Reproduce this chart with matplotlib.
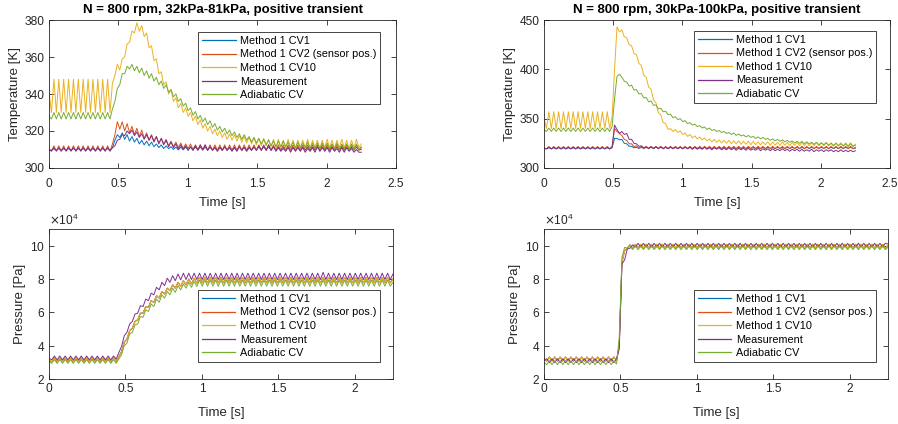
import matplotlib.pyplot as plt
import numpy as np
from matplotlib.ticker import FuncFormatter, ScalarFormatter

plt.rcParams['font.family'] = ['Liberation Sans', 'DejaVu Sans']

# every trace is sampled at half engine pulses from 0 s to 2.25 s
T_END = 2.25

labels = ['Method 1 CV1', 'Method 1 CV2 (sensor pos.)', 'Method 1 CV10',
          'Measurement', 'Adiabatic CV']
colors = ['#0072BD', '#D95319', '#EDB120', '#7E2F8E', '#77AC30']
titles = ['N = 800 rpm, 32kPa-81kPa, positive transient',
          'N = 800 rpm, 30kPa-100kPa, positive transient']

# ---- temperature [K], 32kPa -> 81kPa
tl_cv1 = [310, 309.5, 310.5, 309.5, 310.5, 309.5, 310.5, 309.5, 310.5, 309.5, 310.5, 309.5, 310.5, 309.5, 310.5, 309.5,
          310.5, 309.5, 310.5, 309.5, 310.5, 309.5, 310.5, 309.5, 310.5, 309.5, 311, 315, 318, 316.5, 319, 315.5,
          318, 314.5, 317, 314, 316, 313, 315, 312.5, 314.5, 312, 314, 311.5, 313, 311, 312.5, 310.5,
          312, 310.5, 311.5, 310, 311.3, 309.8, 311.3, 309.8, 311.3, 309.8, 311.3, 309.8, 311.3, 309.8, 311.3, 309.8,
          311.3, 309.8, 311.3, 309.8, 311.3, 309.8, 311.3, 309.8, 311.3, 309.8, 311.3, 309.8, 311.3, 309.8, 311.3, 309.8,
          311.3, 309.8, 311.3, 309.8, 311.3, 309.8, 311.3, 309.8, 311.3, 309.8, 311.3, 309.8, 311.3, 309.8, 311.3, 309.8,
          311.3, 309.8, 311.3, 309.8, 311.3, 309.8, 311.3, 309.8, 311.3, 309.8, 311.3, 309.8, 311.3, 309.8, 311.3, 309.8,
          311.3, 309.8, 311.3, 309.8, 311.3, 309.8, 311.3, 309.8, 311.3, 309.8, 311.3, 309.8, 311.3, 309.8, 311.3, 309.8,
          310]
tl_cv2 = [310, 309, 312, 309, 312, 309, 312, 309, 312, 309, 312, 309, 312, 309, 312, 309,
          312, 309, 312, 309, 312, 309, 312, 309, 312, 309, 313, 318, 325, 321, 325, 320,
          324, 319, 322.5, 318, 321.5, 317, 320.5, 316, 319, 315, 318, 314.5, 317, 313.5, 316, 313,
          315.5, 312, 314.5, 311.5, 314, 311, 313.5, 310.5, 313, 310.5, 313, 310, 312.5, 310, 312.5, 309.5,
          312.5, 309.5, 312.5, 309.5, 312.5, 309.5, 312.5, 309.5, 312.5, 309.5, 312.5, 309.5, 312.5, 309.5, 312.5, 309.5,
          312.5, 309.5, 312.5, 309.5, 312.5, 309.5, 312.5, 309.5, 312.5, 309.5, 312.5, 309.5, 312.5, 309.5, 312.5, 309.5,
          312.5, 309.5, 312.5, 309.5, 312.5, 309.5, 312.5, 309.5, 312.5, 309.5, 312.5, 309.5, 312.5, 309.5, 312.5, 309.5,
          312.5, 309.5, 312.5, 309.5, 312.5, 309.5, 312.5, 309.5, 312.5, 309.5, 312.5, 309.5, 312.5, 309.5, 312.5, 309.5,
          311]
tl_cv10 = [341, 330, 348, 330, 348, 330, 348, 330, 348, 330, 348, 330, 348, 330, 348, 330,
           348, 330, 348, 330, 348, 330, 348, 330, 348, 330, 346, 350, 356, 353, 359, 360,
           367, 368, 374, 373, 378.5, 374, 377, 371, 373, 365, 366, 358, 359, 351, 352, 345,
           346.5, 340, 342, 336, 338, 332.5, 335, 330, 332.5, 328, 330, 325.5, 328, 323.5, 326, 321.5,
           324, 320, 322.5, 318.5, 321, 317.5, 320, 316.5, 319, 315.5, 318.5, 315, 318, 314.5, 317.5, 314,
           317, 313.5, 316.5, 313, 316.5, 312.5, 316, 312, 316, 312, 315.5, 311.5, 315.5, 311, 315.5, 311,
           315, 311, 315.5, 311, 315, 310.5, 315, 311, 315, 311, 315.5, 310.5, 315, 311, 315, 310.5,
           315, 311, 315.5, 311, 315, 310.5, 315, 311, 315.5, 311, 315, 310.5, 315, 311, 315.5, 311,
           313]
tl_meas = [310, 309.3, 311, 309.3, 311, 309.3, 311, 309.3, 311, 309.3, 311, 309.3, 311, 309.3, 311, 309.3,
           311, 309.3, 311, 309.3, 311, 309.3, 311, 309.3, 311, 309.3, 311, 312, 315, 315.5, 318, 317.5,
           320, 318.5, 320.5, 317.5, 319.5, 316.5, 318.5, 315.5, 318, 315, 317.5, 314, 317, 313, 316, 312.5,
           315, 311.5, 314, 311, 313, 310, 312.5, 310, 312, 309.5, 311.5, 309.5, 312, 309.5, 312.5, 310,
           312.5, 309.5, 311.5, 309.5, 311, 309, 311, 309.5, 311.5, 309.5, 311, 309, 311, 309, 311.5, 309.5,
           311, 309, 311, 309.5, 311.5, 309.5, 312, 309.5, 312, 309.5, 312.5, 309.5, 311.5, 309, 311, 309,
           310.5, 309, 311, 308.5, 311, 309, 311, 309, 311, 308.5, 310.5, 309, 311, 308.5, 311.5, 309,
           311, 309, 311, 308.5, 311, 309, 310.5, 308.5, 311, 308.5, 311, 309, 310.5, 308.5, 310, 308.5,
           308.5]
tl_adia = [328, 326.5, 330, 326.5, 330, 326.5, 330, 326.5, 330, 326.5, 330, 326.5, 330, 326.5, 330, 326.5,
           330, 326.5, 330, 326.5, 330, 326.5, 330, 326.5, 330, 326.5, 332, 336, 343, 345, 351, 351,
           355, 353.5, 356, 352.5, 355, 351.5, 354, 350, 352.5, 348.5, 351, 347, 349, 345, 347, 343,
           345, 341, 342.5, 338.5, 340, 336, 337.5, 333.5, 335, 331, 332.5, 328.5, 330.5, 326.5, 328.5, 325,
           327, 323.5, 325.5, 322, 324, 320.5, 322.5, 319.5, 321.5, 318.5, 320.5, 317.5, 319.5, 316.5, 318.5, 315.5,
           318, 315, 317, 314, 316.5, 313.5, 316, 313, 315.5, 312.5, 315, 312, 314.5, 311.5, 314.5, 311.5,
           314.5, 311.5, 314, 311, 314, 311, 314, 311, 313.5, 311, 314, 310.5, 313.5, 310.5, 313.5, 310.5,
           313.5, 310.5, 313.5, 310.5, 313, 310.5, 313.5, 310, 313, 310.5, 313, 310, 313, 310, 313, 310,
           311.5]

# ---- temperature [K], 30kPa -> 100kPa
tr_cv1 = [320, 319.5, 320.5, 319.5, 320.5, 319.5, 320.5, 319.5, 320.5, 319.5, 320.5, 319.5, 320.5, 319.5, 320.5, 319.5,
          320.5, 319.5, 320.5, 319.5, 320.5, 319.5, 320.5, 319.5, 320.5, 319.5, 320.5, 319.5, 320.5, 330, 330, 328.5,
          329, 325, 324.5, 322, 322, 320.5, 321, 319.8, 321, 319.8, 321, 319.8, 321, 319.8, 321, 319.8,
          321, 319.8, 321, 319.8, 321, 319.8, 321, 319.8, 321, 319.8, 321, 319.8, 321, 319.8, 321, 319.8,
          321, 319.8, 321, 319.8, 321, 319.8, 321, 319.8, 321, 319.8, 321, 319.8, 321, 319.8, 321, 319.8,
          321, 319.8, 321, 319.8, 321, 319.8, 321, 319.8, 321, 319.8, 321, 319.8, 321, 319.8, 321, 319.8,
          321, 319.8, 321, 319.8, 321, 319.8, 321, 319.8, 321, 319.8, 321, 319.8, 321, 319.8, 321, 319.8,
          321, 319.8, 321, 319.8, 321, 319.8, 321, 319.8, 321, 319.8, 321, 319.8, 321, 319.8, 321, 319.8,
          320]
tr_cv2 = [320, 319.5, 321.8, 319.5, 321.8, 319.5, 321.8, 319.5, 321.8, 319.5, 321.8, 319.5, 321.8, 319.5, 321.8, 319.5,
          321.8, 319.5, 321.8, 319.5, 321.8, 319.5, 321.8, 319.5, 321.8, 319.5, 321.8, 319.5, 322, 340, 337, 335,
          333, 329, 328, 324.5, 324.5, 321.5, 322.5, 320, 322, 319.5, 322, 319.5, 322, 319.5, 322, 319.5,
          322, 319.5, 322, 319.5, 322, 319.5, 322, 319.5, 322, 319.5, 322, 319.5, 322, 319.5, 322, 319.5,
          322, 319.5, 322, 319.5, 322, 319.5, 322, 319.5, 322, 319.5, 322, 319.5, 322, 319.5, 322, 319.5,
          322, 319.5, 322, 319.5, 322, 319.5, 322, 319.5, 322, 319.5, 322, 319.5, 322, 319.5, 322, 319.5,
          322, 319.5, 322, 319.5, 322, 319.5, 322, 319.5, 322, 319.5, 322, 319.5, 322, 319.5, 322, 319.5,
          322, 319.5, 322, 319.5, 322, 319.5, 322, 319.5, 322, 319.5, 322, 319.5, 322, 319.5, 322, 319.5,
          321]
tr_cv10 = [350, 340, 357, 340, 357, 340, 357, 340, 357, 340, 357, 340, 357, 340, 357, 340,
           357, 340, 357, 340, 357, 340, 357, 340, 357, 340, 357, 340, 352, 400, 443, 438,
           440, 433, 432, 425, 424, 416, 415, 406, 404, 394, 392, 382, 380, 369, 366, 356,
           354, 346, 345, 339, 340, 337, 339, 336, 337.5, 334, 335.5, 332, 334, 330.5, 332.5, 329.5,
           331.5, 328.5, 330.5, 327.5, 329.5, 326.5, 329, 326, 328.5, 325.5, 328, 325, 328, 324.5, 327.5, 324.5,
           327.5, 324, 327, 324, 327, 323.5, 327, 323.5, 326.5, 323.5, 326.5, 323.5, 326.5, 323, 326.5, 323,
           326, 323, 326.5, 323, 326, 322.5, 326, 323, 326, 322.5, 326, 322.5, 326, 322.5, 326, 322.5,
           326, 322.5, 325.5, 322.5, 326, 322.5, 325.5, 322, 325.5, 322.5, 325.5, 322, 325.5, 322, 325.5, 322,
           324]
tr_meas = [320, 319.3, 321, 319.3, 321, 319.3, 321, 319.3, 321, 319.3, 321, 319.3, 321, 319.3, 321, 319.3,
           321, 319.3, 321, 319.3, 321, 319.3, 321, 319.3, 321, 319.3, 321, 319.3, 321, 343.5, 339, 335,
           337, 334, 335, 329, 329, 325, 324.5, 322, 322.5, 320.5, 321.5, 320, 321.5, 320, 321.5, 320,
           321.5, 319.5, 321, 319.5, 321.5, 319.5, 321, 319.5, 321, 319.5, 321, 319.5, 321, 319, 321, 319,
           320.5, 319, 321, 319, 320.5, 318.5, 320.5, 319, 320.5, 318.5, 320, 318.5, 320.5, 318.5, 320, 318,
           320, 318.5, 320, 318, 320, 318, 319.5, 318, 320, 317.5, 319.5, 318, 319.5, 317.5, 319.5, 317.5,
           319, 317.5, 319.5, 317.5, 319, 317, 319, 317.5, 319, 317, 319, 317, 318.5, 317, 319, 316.5,
           318.5, 317, 318.5, 316.5, 318.5, 317, 318.5, 316.5, 318, 316.5, 318.5, 316.5, 318, 316.5, 318, 316.5,
           317.5]
tr_adia = [339, 337, 340.5, 337, 340.5, 337, 340.5, 337, 340.5, 337, 340.5, 337, 340.5, 337, 340.5, 337,
           340.5, 337, 340.5, 337, 340.5, 337, 340.5, 337, 340.5, 337, 340.5, 337, 342, 370, 393, 395,
           392, 388, 387, 383, 384, 379, 379.5, 375, 375.5, 371, 371.5, 367, 368, 363.5, 364, 360,
           360.5, 357, 357.5, 354, 354.5, 351, 352, 349, 350, 347, 348, 345, 346, 343.5, 344.5, 342,
           343, 340.5, 341.5, 339, 340.5, 338, 339, 337, 338, 336, 337, 335, 336, 334, 335.5, 333,
           334.5, 332.5, 333.5, 331.5, 333, 331, 332, 330, 331.5, 329.5, 331, 329, 330, 328, 329.5, 327.5,
           329, 327, 328.5, 326.5, 328, 326, 327.5, 325.5, 327, 325, 327, 324.5, 326.5, 324.5, 326, 324,
           326, 323.5, 325.5, 323.5, 325.5, 323, 325, 323, 325, 322.5, 324.5, 322.5, 324.5, 322, 324.5, 322,
           323]

# ---- pressure [kPa], 32kPa -> 81kPa (CV1 and CV2 lie under CV10)
bl_cv10 = [31.5, 30.3, 32.6, 30.3, 32.6, 30.3, 32.6, 30.3, 32.6, 30.3, 32.6, 30.3, 32.6, 30.3, 32.6, 30.3,
           32.6, 30.3, 32.6, 30.3, 32.6, 30.3, 32.6, 30.3, 32.6, 30.5, 33.5, 36.5, 42, 44, 49, 50.5,
           54.5, 55.5, 59.5, 59.5, 63.5, 63, 67, 66, 70, 68.5, 72.5, 71, 74.5, 73, 76.5, 74.5,
           78, 75.5, 79, 76.5, 80, 77, 80.5, 77.5, 81, 77.7, 81, 77.7, 81, 77.7, 81, 77.7,
           81, 77.7, 81, 77.7, 81, 77.7, 81, 77.7, 81, 77.7, 81, 77.7, 81, 77.7, 81, 77.7,
           81, 77.7, 81, 77.7, 81, 77.7, 81, 77.7, 81, 77.7, 81, 77.7, 81, 77.7, 81, 77.7,
           81, 77.7, 81, 77.7, 81, 77.7, 81, 77.7, 81, 77.7, 81, 77.7, 81, 77.7, 81, 77.7,
           81, 77.7, 81, 77.7, 81, 77.7, 81, 77.7, 81, 77.7, 81, 77.7, 81, 77.7, 81, 77.7,
           80]
bl_cv1 = bl_cv10
bl_cv2 = bl_cv10
bl_meas = [32.5, 31.5, 33.8, 31.5, 33.8, 31.5, 33.8, 31.5, 33.8, 31.5, 33.8, 31.5, 33.8, 31.5, 33.8, 31.5,
           33.8, 31.5, 33.8, 31.5, 33.8, 31.5, 33.8, 31.5, 33.8, 32, 36, 39.5, 46, 48, 53, 54.5,
           59, 59.5, 64, 63.5, 68, 67, 71.5, 70.5, 75, 73.5, 78, 76, 80.5, 78, 82, 79,
           83, 79.5, 83.5, 79.7, 83.5, 79.7, 83.5, 79.7, 83.5, 79.7, 83.5, 79.7, 83.5, 79.7, 83.5, 79.7,
           83.5, 79.7, 83.5, 79.7, 83.5, 79.7, 83.5, 79.7, 83.5, 79.7, 83.5, 79.7, 83.5, 79.7, 83.5, 79.7,
           83.5, 79.7, 83.5, 79.7, 83.5, 79.7, 83.5, 79.7, 83.5, 79.7, 83.5, 79.7, 83.5, 79.7, 83.5, 79.7,
           83.5, 79.7, 83.5, 79.7, 83.5, 79.7, 84, 79.7, 83.5, 79.7, 83.5, 79.7, 83.5, 79.7, 83.5, 79.7,
           83.5, 79.7, 83.5, 79.7, 83.5, 79.7, 83.5, 79.7, 83.5, 79.7, 83.5, 79.7, 83.5, 79.7, 83.5, 79.7,
           83]
bl_adia = [30.5, 29.4, 31.6, 29.4, 31.6, 29.4, 31.6, 29.4, 31.6, 29.4, 31.6, 29.4, 31.6, 29.4, 31.6, 29.4,
           31.6, 29.4, 31.6, 29.4, 31.6, 29.4, 31.6, 29.4, 31.6, 29.5, 32, 34.5, 40, 41.5, 47, 48,
           52.5, 53, 57.5, 57, 61.5, 60.5, 65, 63.5, 68, 66, 70.5, 68.5, 72.5, 70.5, 74.5, 72,
           76, 73.5, 77, 74.5, 78, 75, 78.5, 75.5, 79.3, 75.7, 79.3, 75.7, 79.3, 75.7, 79.3, 75.7,
           79.3, 75.7, 79.3, 75.7, 79.3, 75.7, 79.3, 75.7, 79.3, 75.7, 79.3, 75.7, 79.3, 75.7, 79.3, 75.7,
           79.3, 75.7, 79.3, 75.7, 79.3, 75.7, 79.3, 75.7, 79.3, 75.7, 79.3, 75.7, 79.3, 75.7, 79.3, 75.7,
           79.3, 75.7, 79.3, 75.7, 79.3, 75.7, 79.3, 75.7, 79.3, 75.7, 79.3, 75.7, 79.3, 75.7, 79.3, 75.7,
           79.3, 75.7, 79.3, 75.7, 79.3, 75.7, 79.3, 75.7, 79.3, 75.7, 79.3, 75.7, 79.3, 75.7, 79.3, 75.7,
           78]

# ---- pressure [kPa], 30kPa -> 100kPa (CV1 and CV2 lie under CV10)
br_cv10 = [32, 30.8, 33.2, 30.8, 33.2, 30.8, 33.2, 30.8, 33.2, 30.8, 33.2, 30.8, 33.2, 30.8, 33.2, 30.8,
           33.2, 30.8, 33.2, 30.8, 33.2, 30.8, 33.2, 30.8, 33.2, 30.8, 33.2, 31, 40, 90, 97, 98.5,
           100.5, 98.6, 100.8, 98.6, 100.8, 98.6, 100.8, 98.6, 100.8, 98.6, 100.8, 98.6, 100.8, 98.6, 100.8, 98.6,
           100.8, 98.6, 100.8, 98.6, 100.8, 98.6, 100.8, 98.6, 100.8, 98.6, 100.8, 98.6, 100.8, 98.6, 100.8, 98.6,
           100.8, 98.6, 100.8, 98.6, 100.8, 98.6, 100.8, 98.6, 100.8, 98.6, 100.8, 98.6, 100.8, 98.6, 100.8, 98.6,
           100.8, 98.6, 100.8, 98.6, 100.8, 98.6, 100.8, 98.6, 100.8, 98.6, 100.8, 98.6, 100.8, 98.6, 100.8, 98.6,
           100.8, 98.6, 100.8, 98.6, 100.8, 98.6, 100.8, 98.6, 100.8, 98.6, 100.8, 98.6, 100.8, 98.6, 100.8, 98.6,
           100.8, 98.6, 100.8, 98.6, 100.8, 98.6, 100.8, 98.6, 100.8, 98.6, 100.8, 98.6, 100.8, 98.6, 100.8, 98.6,
           100]
br_cv1 = br_cv10
br_cv2 = br_cv10
br_meas = [31, 32.2, 29.8, 32.2, 29.8, 32.2, 29.8, 32.2, 29.8, 32.2, 29.8, 32.2, 29.8, 32.2, 29.8, 32.2,
           29.8, 32.2, 29.8, 32.2, 29.8, 32.2, 29.8, 32.2, 29.8, 32.2, 29.8, 32.2, 38, 89, 91.5, 98,
           98.5, 100.5, 99.2, 101.4, 99.2, 101.4, 99.2, 101.4, 99.2, 101.4, 99.2, 101.4, 99.2, 101.4, 99.2, 101.4,
           99.2, 101.4, 99.2, 101.4, 99.2, 101.4, 99.2, 101.4, 99.2, 101.4, 99.2, 101.4, 99.2, 101.4, 99.2, 101.4,
           99.2, 101.4, 99.2, 101.4, 99.2, 101.4, 99.2, 101.4, 99.2, 101.4, 99.2, 101.4, 99.2, 101.4, 99.2, 101.4,
           99.2, 101.4, 99.2, 101.4, 99.2, 101.4, 99.2, 101.4, 99.2, 101.4, 99.2, 101.4, 99.2, 101.4, 99.2, 101.4,
           99.2, 101.4, 99.2, 101.4, 99.2, 101.4, 99.2, 101.4, 99.2, 101.4, 99.2, 101.4, 99.2, 101.4, 99.2, 101.4,
           99.2, 101.4, 99.2, 101.4, 99.2, 101.4, 99.2, 101.4, 99.2, 101.4, 99.2, 101.4, 99.2, 101.4, 99.2, 101.4,
           101]
br_adia = [30, 28.6, 31, 28.6, 31, 28.6, 31, 28.6, 31, 28.6, 31, 28.6, 31, 28.6, 31, 28.6,
           31, 28.6, 31, 28.6, 31, 28.6, 31, 28.6, 31, 28.6, 31, 29, 45, 93, 99, 98.5,
           99.8, 97.6, 99.8, 97.6, 99.8, 97.6, 99.8, 97.6, 99.8, 97.6, 99.8, 97.6, 99.8, 97.6, 99.8, 97.6,
           99.8, 97.6, 99.8, 97.6, 99.8, 97.6, 99.8, 97.6, 99.8, 97.6, 99.8, 97.6, 99.8, 97.6, 99.8, 97.6,
           99.8, 97.6, 99.8, 97.6, 99.8, 97.6, 99.8, 97.6, 99.8, 97.6, 99.8, 97.6, 99.8, 97.6, 99.8, 97.6,
           99.8, 97.6, 99.8, 97.6, 99.8, 97.6, 99.8, 97.6, 99.8, 97.6, 99.8, 97.6, 99.8, 97.6, 99.8, 97.6,
           99.8, 97.6, 99.8, 97.6, 99.8, 97.6, 99.8, 97.6, 99.8, 97.6, 99.8, 97.6, 99.8, 97.6, 99.8, 97.6,
           99.8, 97.6, 99.8, 97.6, 99.8, 97.6, 99.8, 97.6, 99.8, 97.6, 99.8, 97.6, 99.8, 97.6, 99.8, 97.6,
           99]

INK = '#262626'


def style_axes(ax, xpad):
    for s in ax.spines.values():
        s.set_color(INK)
        s.set_linewidth(0.6)
    ax.tick_params(direction='in', top=True, right=True, length=3.5, width=0.6,
                   colors=INK, labelsize=8.6, pad=3)
    ax.tick_params(axis='x', pad=xpad)


def draw(ax, series, scale):
    for y, c, lab in zip(series, colors, labels):
        y = np.array(y) * scale
        t = np.linspace(0, T_END, len(y))
        ax.plot(t, y, color=c, lw=0.7, label=lab)


def add_legend(ax, anchor):
    leg = ax.legend(loc='upper right', bbox_to_anchor=anchor, fontsize=7.8,
                    fancybox=False, framealpha=1, edgecolor=INK, handlelength=3.1,
                    handletextpad=0.4, labelspacing=0.33, borderpad=0.35,
                    borderaxespad=0)
    leg.get_frame().set_linewidth(0.6)
    for line in leg.get_lines():
        line.set_linewidth(0.9)
    for txt in leg.get_texts():
        txt.set_color('#000000')


fmt = FuncFormatter(lambda v, p: '%g' % v)

fig = plt.figure(figsize=(8.98, 4.24), dpi=100)
ax_tl = fig.add_axes([0.0546, 0.6038, 0.3864, 0.349])
ax_tr = fig.add_axes([0.6058, 0.6038, 0.3853, 0.349])
ax_bl = fig.add_axes([0.0546, 0.1061, 0.383, 0.3538])
ax_br = fig.add_axes([0.6058, 0.1061, 0.383, 0.3538])

draw(ax_tl, [tl_cv1, tl_cv2, tl_cv10, tl_meas, tl_adia], 1)
draw(ax_tr, [tr_cv1, tr_cv2, tr_cv10, tr_meas, tr_adia], 1)
draw(ax_bl, [bl_cv1, bl_cv2, bl_cv10, bl_meas, bl_adia], 1000)
draw(ax_br, [br_cv1, br_cv2, br_cv10, br_meas, br_adia], 1000)

ax_tl.set_ylim(300, 380)
ax_tl.set_yticks([300, 320, 340, 360, 380])
ax_tr.set_ylim(300, 450)
ax_tr.set_yticks([300, 350, 400, 450])
for ax, title in [(ax_tl, titles[0]), (ax_tr, titles[1])]:
    ax.set_xlim(0, 2.5)
    ax.set_xticks([0, 0.5, 1, 1.5, 2, 2.5])
    ax.yaxis.set_major_formatter(fmt)
    ax.set_ylabel('Temperature [K]', fontsize=9.5, color=INK, labelpad=3)
    ax.set_xlabel('Time [s]', fontsize=9.5, color=INK, labelpad=4.5)
    ax.set_title(title, fontsize=9.5, fontweight='bold', color='black', pad=5)
    style_axes(ax, 7.5)

for ax in [ax_bl, ax_br]:
    ax.set_xlim(0, 2.25)
    ax.set_xticks([0, 0.5, 1, 1.5, 2])
    ax.set_ylim(2e4, 11e4)
    ax.set_yticks([2e4, 4e4, 6e4, 8e4, 10e4])
    sf = ScalarFormatter(useMathText=True)
    sf.set_powerlimits((4, 4))
    ax.yaxis.set_major_formatter(sf)
    ax.yaxis.get_offset_text().set_fontsize(8.6)
    ax.yaxis.get_offset_text().set_color(INK)
    ax.set_ylabel('Pressure [Pa]', fontsize=9.5, color=INK, labelpad=3)
    ax.set_xlabel('Time [s]', fontsize=9.5, color=INK, labelpad=8.5)
    style_axes(ax, 3)

for ax in [ax_tl, ax_tr, ax_bl, ax_br]:
    ax.xaxis.set_major_formatter(fmt)

add_legend(ax_tl, (0.954, 0.919))
add_legend(ax_tr, (0.960, 0.926))
add_legend(ax_bl, (0.962, 0.593))
add_legend(ax_br, (0.965, 0.593))

fig.savefig('out.png', dpi=100)
